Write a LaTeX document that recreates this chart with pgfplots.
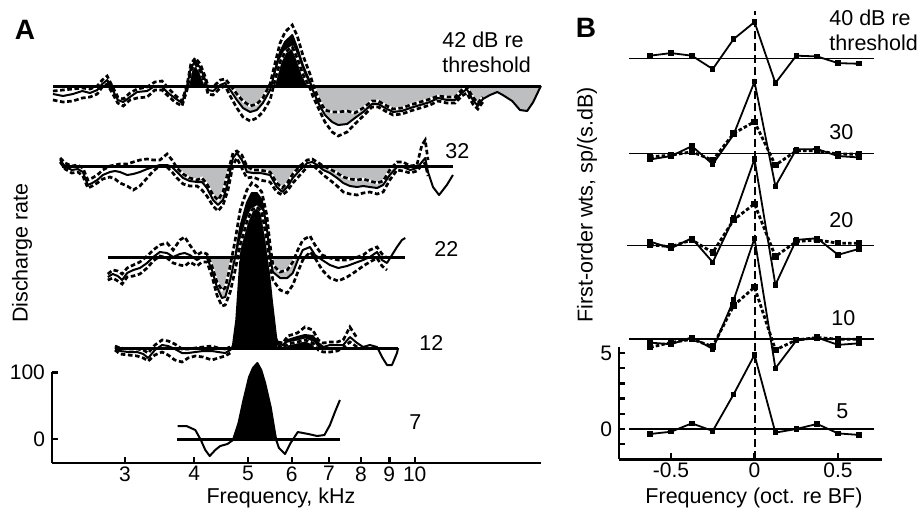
\documentclass[border=0pt]{standalone}
\usepackage{fontspec}
\setmainfont{Liberation Sans}
\usepackage{pgfplots}
\pgfplotsset{compat=1.18}
\usepackage{pgfplotstable}

\definecolor{fillgray}{RGB}{189,190,192}

\pgfplotsset{
  dsh/.style={black, line width=1.35pt, dash pattern=on 2.3pt off 1.3pt, unbounded coords=jump},
  dshw/.style={white, line width=1.35pt, unbounded coords=jump},
  sol/.style={black, line width=1pt, line join=round},
  base/.style={black, line width=1.5pt},
  bbase/.style={black, line width=0.65pt},
  bsol/.style={black, line width=0.9pt, mark=square*, mark size=0.9pt},
  bdsh/.style={black, line width=1.4pt, dash pattern=on 1.8pt off 1.1pt, mark=square*, mark size=0.9pt, mark options={solid}},
  frame/.style={scale only axis, axis lines=left, axis line style={-, line width=1.4pt},
    tick align=inside, major tick length=3pt, tick style={line width=1.2pt, black},
    tick label style={font=\fontsize{10.5}{12}\selectfont}, xticklabel style={inner sep=1.5pt}},
  adata/.style={at={(26pt,26.5pt)}, anchor=south west, scale only axis,
    width=244.5pt, height=231.5pt, xmin=0.3453, xmax=1.2280, hide axis, clip=false},
  bfill/.style={fill=black, draw=none},
  gfill/.style={fill=fillgray, draw=none},
}

% Panel A: x = log10(frequency in kHz); y = discharge rate (spikes/s) relative to each curve's baseline
% 42 dB: solid
\pgfplotstableread{
L s
0.347 -12
0.365 -15
0.383 -12
0.400 -7.5
0.414 -10.5
0.427 -6
0.436 3
0.445 9
0.454 -4.5
0.464 -21
0.474 -24
0.486 -16.5
0.499 -9
0.517 -7.5
0.531 0
0.544 -1.5
0.555 -10.5
0.567 -18
0.580 -25.5
0.589 0
0.596 27
0.604 37.5
0.613 27
0.622 9
0.625 0
0.627 -6
0.636 -7.5
0.649 1.5
0.658 4.5
0.661 0
0.667 -6
0.679 -21
0.690 -33
0.703 -39
0.715 -36
0.726 -25.5
0.739 -6
0.741 0
0.748 24
0.757 51
0.766 66
0.779 76.5
0.788 57
0.798 31.5
0.811 6
0.814 0
0.816 -6
0.826 -25.5
0.838 -43.5
0.851 -54
0.862 -58.5
0.878 -57
0.892 -48
0.907 -39
0.923 -27
0.934 -27
0.950 -34.5
0.961 -39
0.977 -37.5
0.992 -33
1.010 -28.5
1.028 -24
1.042 -18
1.058 -21
1.073 -21
1.085 -10.5
1.094 -4.5
1.105 -21
1.114 -30
1.123 -19.5
1.136 -13.5
1.149 -9
1.159 -13.5
1.176 -22.5
1.190 -36
1.203 -37.5
1.214 -24
1.226 -3
1.228 0
}\tAffs
% 42 dB: dashed
\pgfplotstableread{
L a b
0.347 -7.5 -21
0.365 -6 -24
0.383 -4.5 -22.5
0.400 -3 -18
0.414 -4.5 -16.5
0.427 0 -12
0.436 9 -1.5
0.445 15 3
0.454 0 -10.5
0.464 -16.5 -25.5
0.474 -19.5 -30
0.486 -10.5 -21
0.499 -4.5 -18
0.517 -1.5 -16.5
0.531 6 -6
0.544 7.5 -6
0.555 -3 -15
0.567 -13.5 -24
0.580 -22.5 -30
0.589 1.5 -6
0.596 33 24
0.604 42 33
0.613 33 22.5
0.622 13.5 3
0.627 0 -12
0.636 -1.5 -13.5
0.649 9 -3
0.658 10.5 0
0.667 1.5 -15
0.679 -12 -33
0.690 -22.5 -46.5
0.703 -30 -52.5
0.715 -27 -48
0.726 -18 -39
0.739 3 -21
0.748 34.5 9
0.757 64.5 36
0.766 81 51
0.779 91.5 58.5
0.788 75 42
0.798 46.5 18
0.811 18 -3
0.816 3 -15
0.826 -18 -33
0.838 -36 -54
0.851 -39 -69
0.862 -39 -75
0.878 -37.5 -69
0.892 -40.5 -57
0.907 -33 -45
0.923 -22.5 -31.5
0.934 -22.5 -31.5
0.950 -30 -39
0.961 -34.5 -43.5
0.977 -33 -42
0.992 -28.5 -37.5
1.010 -24 -33
1.028 -19.5 -28.5
1.042 -15 -22.5
1.058 -16.5 -25.5
1.073 -16.5 -25.5
1.085 -6 -15
1.094 -1.5 -10.5
1.105 -16.5 -27
1.114 -25.5 -34.5
1.123 -16.5 -24
}\tAffd

% 32 dB: solid
\pgfplotstableread{
L s
0.360 9
0.369 -1
0.381 -6
0.392 -4.5
0.401 -9
0.410 -28.5
0.418 -25.5
0.427 -21
0.437 -13.5
0.450 -9
0.459 -7.5
0.468 -9
0.481 -13.5
0.492 -12
0.504 -9
0.517 -4.5
0.528 -1.5
0.540 1.5
0.553 1.5
0.558 0
0.562 -1.5
0.571 -9
0.582 -18
0.594 -22.5
0.607 -24
0.616 -24
0.625 -33
0.636 -51
0.645 -58.5
0.654 -51
0.663 -24
0.669 0
0.672 12
0.679 19.5
0.688 9
0.693 0
0.697 -9
0.708 -10.5
0.721 -10.5
0.739 -13.5
0.751 -31.5
0.761 -39
0.770 -31.5
0.780 -18
0.793 -6
0.801 0
0.806 4.5
0.815 6
0.824 1.5
0.826 0
0.835 -6
0.847 -10.5
0.860 -18
0.871 -25.5
0.883 -30
0.896 -31.5
0.907 -30
0.919 -31.5
0.932 -33
0.943 -28.5
0.955 -13.5
0.968 -1.5
0.979 -1.5
0.992 -6
1.004 -3
1.013 6
1.019 12
1.024 -9
1.033 -31.5
1.044 -43.5
1.058 -28.5
1.069 -13.5
}\tAtts
% 32 dB: dashed
\pgfplotstableread{
L a b
0.360 12 6
0.369 4.5 -4.5
0.381 0 -10.5
0.392 1.5 -9
0.401 -3 -15
0.410 -21 -33
0.418 -18 -30
0.427 -13.5 -25.5
0.437 -6 -19.5
0.450 0 -16.5
0.459 1.5 -19.5
0.468 3 -25.5
0.481 3 -30
0.492 6 -36
0.504 9 -30
0.517 10.5 -18
0.528 9 -7.5
0.540 9 0
0.553 18 -1.5
0.562 9 -9
0.571 -3 -18
0.582 -12 -27
0.594 -18 -30
0.607 -21 -30
0.616 -18 -36
0.625 -27 -45
0.636 -43.5 -60
0.645 -51 -67.5
0.654 -39 -58.5
0.663 -9 -36
0.672 19.5 1.5
0.679 22.5 12
0.688 16.5 -3
0.697 0 -18
0.708 -6 -16.5
0.721 -6 -21
0.739 -9 -24
0.751 -25.5 -39
0.761 -33 -43.5
0.770 -25.5 -37.5
0.780 -12 -25.5
0.793 0 -13.5
0.806 9 -1.5
0.815 10.5 1.5
0.824 6 -4.5
0.835 0 -13.5
0.847 -4.5 -21
0.860 -10.5 -30
0.871 -16.5 -39
0.883 -19.5 -42
0.896 -21 -43.5
0.907 -19.5 -40.5
0.919 -22.5 -39
0.932 -25.5 -42
0.943 -22.5 -39
0.955 -6 -21
0.968 6 -6
0.979 6 -7.5
0.992 0 -10.5
1.004 1.5 -7.5
1.013 31.5 1.5
1.019 39 4.5
1.024 9 -15
}\tAttd

% 22 dB: solid
\pgfplotstableread{
L s
0.446 -30
0.455 -25.5
0.464 -28.5
0.472 -34.5
0.481 -24
0.492 -19.5
0.504 -16.5
0.517 -9
0.528 0
0.540 7.5
0.553 6
0.564 0
0.576 4.5
0.585 6
0.594 3
0.607 -4.5
0.616 0
0.625 -1.5
0.634 -19.5
0.643 -45
0.652 -61.5
0.658 -60
0.667 -34.5
0.676 0
0.685 45
0.697 81
0.706 96
0.715 96
0.724 85.5
0.733 45
0.739 0
0.744 -22.5
0.757 -31.5
0.770 -31.5
0.780 -24
0.789 -4.5
0.792 0
0.798 10.5
0.811 15
0.820 3
0.833 -4.5
0.847 -12
0.862 -16.5
0.878 -13.5
0.892 -9
0.907 -4.5
0.919 0
0.932 7.5
0.941 -4.5
0.950 -9
0.959 3
0.968 15
0.977 25.5
0.983 28.5
}\tAtws
% 22 dB: dashed
\pgfplotstableread{
L a b
0.446 -25.5 -34.5
0.455 -19.5 -31.5
0.464 -21 -36
0.472 -25.5 -40.5
0.481 -16.5 -30
0.492 -12 -28.5
0.504 -7.5 -25.5
0.517 1.5 -16.5
0.528 10.5 -6
0.540 18 1.5
0.553 21 -1.5
0.564 10.5 -9
0.576 25.5 -12
0.585 30 -13.5
0.594 18 -7.5
0.607 3 -13.5
0.616 7.5 -7.5
0.625 4.5 -7.5
0.634 -13.5 -28.5
0.643 -37.5 -57
0.652 -49.5 -73.5
0.658 -46.5 -72
0.667 -13.5 -52.5
0.676 25.5 -19.5
0.685 70.5 18
0.697 100.5 52.5
0.706 111 70.5
0.715 106.5 75
0.724 97.5 67.5
0.733 63 25.5
0.739 18 -12
0.744 -12 -34.5
0.757 -22.5 -49.5
0.770 -19.5 -54
0.780 -7.5 -42
0.789 10.5 -22.5
0.798 25.5 -4.5
0.811 31.5 7.5
0.820 18 -1.5
0.833 3 -19.5
0.847 -1.5 -31.5
0.862 -4.5 -36
0.878 -4.5 -30
0.892 -1.5 -22.5
0.907 3 -13.5
0.919 10.5 -7.5
0.932 15 -1.5
0.941 4.5 -13.5
0.950 -1.5 -19.5
}\tAtwd

% 12 dB: solid
\pgfplotstableread{
L s
0.459 0
0.468 -4.5
0.483 -6
0.499 -6
0.510 -9
0.519 -15
0.531 -3
0.544 4.5
0.555 3
0.567 -1.5
0.580 -7.5
0.591 -7.5
0.604 -6
0.618 -4.5
0.634 -4.5
0.645 -6
0.658 -7.5
0.667 -3
0.670 0
0.672 4.5
0.678 42
0.685 129
0.694 154.5
0.706 165
0.717 162
0.728 147
0.735 129
0.742 72
0.750 15
0.753 7.5
0.762 4.5
0.771 12
0.788 16.5
0.802 19.5
0.816 18
0.826 7.5
0.835 1.5
0.847 4.5
0.860 4.5
0.871 4.5
0.883 16.5
0.896 7.5
0.907 1.5
0.919 4.5
0.932 1.5
0.941 -13.5
0.950 -25.5
0.959 -25.5
0.968 -7.5
0.970 0
}\tAows
% 12 dB: dashed (absent over the peak)
\pgfplotstableread{
L a b
0.459 3 -3
0.468 0 -9
0.483 -1.5 -10.5
0.499 -1.5 -12
0.510 -3 -15
0.519 -7.5 -19.5
0.531 4.5 -10.5
0.544 12 -6
0.555 10.5 -10.5
0.567 6 -18
0.580 -1.5 -21
0.591 -1.5 -15
0.604 0 -12
0.618 1.5 -13.5
0.634 3 -18
0.645 0 -15
0.658 -1.5 -12
0.667 1.5 -7.5
0.710 nan nan
0.753 9 4.5
0.762 7.5 0
0.771 18 6
0.788 22.5 9
0.802 31.5 12
0.816 27 7.5
0.826 12 -3
0.835 7.5 -6
0.847 9 -6
0.860 9 -4.5
0.871 12 0
0.883 31.5 9
0.896 15 1.5
}\tAowd

% 7 dB: solid
\pgfplotstableread{
L s
0.572 19.5
0.588 19.5
0.604 13.5
0.614 -1.5
0.622 -16.5
0.630 -25.5
0.640 -16.5
0.649 -10.5
0.662 -7.5
0.672 -1.5
0.682 24
0.691 58.5
0.701 93
0.708 106.5
0.716 114
0.723 103.5
0.730 84
0.740 48
0.750 -1.5
0.755 -13.5
0.766 -22.5
0.776 -6
0.789 10.5
0.808 7.5
0.824 4.5
0.837 6
0.847 21
0.856 40.5
0.865 58.5
}\tAses

% Panel B: x in octaves re BF, s = solid, d = dashed (sp/(s.dB), re each baseline)
\pgfplotstableread{
x s
-0.625 0.20
-0.5 0.37
-0.375 0.20
-0.25 -0.68
-0.125 1.29
0 2.41
0.125 -1.60
0.25 0.20
0.375 0.15
0.5 -0.29
0.625 -0.33
}\tBfo

\pgfplotstableread{
x s d
-0.625 -0.37 -0.20
-0.5 -0.15 -0.09
-0.375 0.50 0.13
-0.25 -0.68 -0.42
-0.125 1.27 1.34
0 4.74 2.11
0.125 -2.13 -0.75
0.25 0.29 0.20
0.375 0.31 0.20
0.5 -0.15 -0.02
0.625 -0.24 -0.02
}\tBth

\pgfplotstableread{
x s d
-0.625 0.26 0.04
-0.5 -0.18 -0.07
-0.375 0.48 0.37
-0.25 -1.10 -0.46
-0.125 1.80 1.69
0 5.68 2.74
0.125 -2.59 -0.72
0.25 0.37 0.26
0.375 0.48 0.37
0.5 -0.61 0.15
0.625 -0.22 0.15
}\tBtw

\pgfplotstableread{
x s d
-0.625 -0.24 -0.55
-0.5 -0.35 -0.24
-0.375 0.11 -0.02
-0.25 -0.66 -0.50
-0.125 2.55 2.20
0 6.62 3.40
0.125 -1.93 -0.72
0.25 -0.11 -0.07
0.375 0.09 0.09
0.5 -0.39 -0.02
0.625 -0.29 -0.02
}\tBte

\pgfplotstableread{
x s
-0.625 -0.33
-0.5 -0.18
-0.375 0.37
-0.25 -0.13
-0.125 2.28
0 4.87
0.125 -0.24
0.25 0
0.375 0.33
0.5 -0.29
0.625 -0.39
}\tBfi

\begin{document}
\begin{tikzpicture}[x=1pt,y=1pt]
\useasboundingbox (0,0) rectangle (460,258);

% ---------------- Panel A frame
\begin{axis}[frame, at={(26pt,26.5pt)}, anchor=south west,
  width=244.5pt, height=45.35pt,
  xmin=0.3453, xmax=1.2280, ymin=-36, ymax=100,
  xtick={0.4771,0.6021,0.6990,0.7782,0.8451,0.9031,0.9542,1},
  xticklabels={3,4,5,6,7,8,9,10},
  ytick={0,100}, yticklabels={0,100}]
\end{axis}

% ---------------- Panel A: 7 dB (baseline at y=0 of this axis)
\begin{axis}[adata, ymin=-36, ymax=658.5]
\addplot[bfill, restrict x to domain=0.6715:0.7505] table[x=L, y=s] {\tAses} \closedcycle;
\addplot[base] coordinates {(0.571,0) (0.865,0)};
\addplot[sol] table[x=L, y=s] {\tAses};
\end{axis}

% ---------------- 12 dB
\begin{axis}[adata, ymin=-172.5, ymax=522]
\addplot[bfill, restrict x to domain=0.6695:0.8355] table[x=L, y=s] {\tAows} \closedcycle;
\addplot[dshw] table[x=L, y=a] {\tAowd};
\addplot[dsh]  table[x=L, y=a] {\tAowd};
\addplot[dshw] table[x=L, y=b] {\tAowd};
\addplot[dsh]  table[x=L, y=b] {\tAowd};
\addplot[base] coordinates {(0.459,0) (0.970,0)};
\addplot[sol] table[x=L, y=s] {\tAows};
\end{axis}

% ---------------- 22 dB
\begin{axis}[adata, ymin=-309, ymax=385.5]
\addplot[gfill, restrict x to domain=0.6245:0.6765] table[x=L, y=s] {\tAtws} \closedcycle;
\addplot[bfill, restrict x to domain=0.6755:0.7395] table[x=L, y=s] {\tAtws} \closedcycle;
\addplot[gfill, restrict x to domain=0.7385:0.7925] table[x=L, y=s] {\tAtws} \closedcycle;
\addplot[dshw] table[x=L, y=a] {\tAtwd};
\addplot[dsh]  table[x=L, y=a] {\tAtwd};
\addplot[dshw] table[x=L, y=b] {\tAtwd};
\addplot[dsh]  table[x=L, y=b] {\tAtwd};
\addplot[base] coordinates {(0.446,0) (0.983,0)};
\addplot[sol] table[x=L, y=s] {\tAtws};
\end{axis}

% ---------------- 32 dB
\begin{axis}[adata, ymin=-445.5, ymax=249]
\addplot[gfill, restrict x to domain=0.5575:0.6695] table[x=L, y=s] {\tAtts} \closedcycle;
\addplot[gfill, restrict x to domain=0.6925:0.8015] table[x=L, y=s] {\tAtts} \closedcycle;
\addplot[gfill, restrict x to domain=0.8255:0.9685] table[x=L, y=s] {\tAtts} \closedcycle;
\addplot[dshw] table[x=L, y=a] {\tAttd};
\addplot[dsh]  table[x=L, y=a] {\tAttd};
\addplot[dshw] table[x=L, y=b] {\tAttd};
\addplot[dsh]  table[x=L, y=b] {\tAttd};
\addplot[base] coordinates {(0.363,0) (1.069,0)};
\addplot[sol] table[x=L, y=s] {\tAtts};
\end{axis}

% ---------------- 42 dB
\begin{axis}[adata, ymin=-565.5, ymax=129]
\addplot[bfill, restrict x to domain=0.5885:0.6255] table[x=L, y=s] {\tAffs} \closedcycle;
\addplot[gfill, restrict x to domain=0.6605:0.7415] table[x=L, y=s] {\tAffs} \closedcycle;
\addplot[bfill, restrict x to domain=0.7405:0.8145] table[x=L, y=s] {\tAffs} \closedcycle;
\addplot[gfill, restrict x to domain=0.8135:1.2285] table[x=L, y=s] {\tAffs} \closedcycle;
\addplot[dshw] table[x=L, y=a] {\tAffd};
\addplot[dsh]  table[x=L, y=a] {\tAffd};
\addplot[dshw] table[x=L, y=b] {\tAffd};
\addplot[dsh]  table[x=L, y=b] {\tAffd};
\addplot[base] coordinates {(0.347,0) (1.228,0)};
\addplot[sol] table[x=L, y=s] {\tAffs};
\end{axis}

% ---------------- Panel B frame
\begin{axis}[frame, at={(309.5pt,28.3pt)}, anchor=south west,
  width=131.5pt, height=56.24pt,
  xmin=-0.811, xmax=0.763, ymin=-2, ymax=5.4,
  xtick={-0.5,0,0.5}, xticklabels={-0.5,0,0.5},
  ytick={-1,0,1,2,3,4,5}, yticklabels={,0,,,,,5}]
\end{axis}

% ---------------- Panel B data
\begin{axis}[at={(309.5pt,28.3pt)}, anchor=south west, scale only axis,
  width=131.5pt, height=229.7pt,
  xmin=-0.811, xmax=0.763, ymin=-2, ymax=28.2, hide axis, clip=false]
\addplot[black, line width=1pt, dash pattern=on 4pt off 2pt] coordinates {(0,-2) (0,27.45)};
\addplot[bbase] coordinates {(-0.751,0) (0.716,0)};
\addplot[bbase] coordinates {(-0.751,5.92) (0.716,5.92)};
\addplot[bbase] coordinates {(-0.763,12.06) (0.716,12.06)};
\addplot[bbase] coordinates {(-0.751,18.09) (0.716,18.09)};
\addplot[bbase] coordinates {(-0.751,24.34) (0.716,24.34)};
\addplot[bdsh] table[x=x, y expr=\thisrow{d}+5.92] {\tBte};
\addplot[bdsh] table[x=x, y expr=\thisrow{d}+12.06] {\tBtw};
\addplot[bdsh] table[x=x, y expr=\thisrow{d}+18.09] {\tBth};
\addplot[bsol] table[x=x, y=s] {\tBfi};
\addplot[bsol] table[x=x, y expr=\thisrow{s}+5.92] {\tBte};
\addplot[bsol] table[x=x, y expr=\thisrow{s}+12.06] {\tBtw};
\addplot[bsol] table[x=x, y expr=\thisrow{s}+18.09] {\tBth};
\addplot[bsol] table[x=x, y expr=\thisrow{s}+24.34] {\tBfo};
\end{axis}

% ---------------- texts
\begin{scope}[every node/.style={inner sep=0pt, font=\fontsize{10.75}{12.5}\selectfont}]
\node[font=\bfseries\fontsize{14}{16}\selectfont] at (12.5,243) {A};
\node[font=\bfseries\fontsize{14}{16}\selectfont] at (293,244) {B};
\node[anchor=west, align=left] at (221,231.75) {42 dB re\\threshold};
\node[anchor=west] at (222.5,182.5) {32};
\node[anchor=west] at (217,133.5) {22};
\node[anchor=west] at (209.5,86.5) {12};
\node[anchor=west] at (204.5,47) {7};
\node[anchor=west, align=left] at (414.5,243) {40 dB re\\threshold};
\node[anchor=west] at (414.5,192) {30};
\node[anchor=west] at (414.5,148) {20};
\node[anchor=west] at (415.5,99) {10};
\node[anchor=west] at (418,52.5) {5};
\node at (140.5,9) {Frequency, kHz};
\node at (377,9) {Frequency (oct. re BF)};
\node[rotate=90] at (11,131.5) {Discharge rate};
\node[rotate=90] at (293.5,155.5) {First-order wts, sp/(s.dB)};
\end{scope}
\end{tikzpicture}
\end{document}
